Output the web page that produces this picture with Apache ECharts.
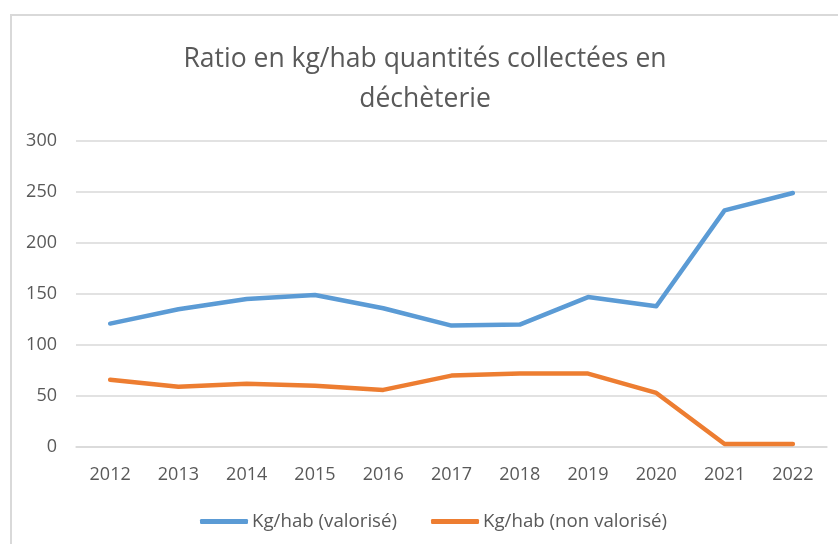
<!DOCTYPE html>
<html>
<head>
<meta charset="utf-8">
<script src="https://cdn.jsdelivr.net/npm/echarts@6/dist/echarts.min.js"></script>
<style>
html,body{margin:0;padding:0;background:#fff;}
#c{width:838px;height:544px;}
</style>
</head>
<body>
<div id="c"></div>
<script>
const years = ['2012','2013','2014','2015','2016','2017','2018','2019','2020','2021','2022'];
const valorise = [121, 135, 145, 149, 136, 119, 120, 147, 138, 232, 249];
const nonValorise = [66, 59, 62, 60, 56, 70, 72, 72, 53, 3, 3];
const seriesNames = ['Kg/hab (valorisé)', 'Kg/hab (non valorisé)'];
const titleText = 'Ratio en kg/hab quantités collectées en\ndéchèterie';

const FONT = '"Open Sans", sans-serif';
const GREY = '#595959';
const chart = echarts.init(document.getElementById('c'));
chart.setOption({
  backgroundColor: '#ffffff',
  animation: false,
  title: {
    text: titleText,
    left: 420,
    textAlign: 'center',
    top: 34,
    textStyle: {
      fontFamily: FONT,
      fontSize: 26.5,
      fontWeight: 'normal',
      color: GREY,
      lineHeight: 40
    }
  },
  graphic: [{
    type: 'rect',
    shape: { x: 11, y: 15, width: 900, height: 600 },
    style: { fill: 'none', stroke: '#d9d9d9', lineWidth: 2 },
    silent: true
  }],
  legend: {
    left: 195,
    top: 507,
    itemWidth: 48,
    itemHeight: 5,
    itemGap: 34,
    icon: 'roundRect',
    textStyle: { fontFamily: FONT, fontSize: 18.7, color: GREY, padding: [0, 0, 0, -1] },
    data: seriesNames
  },
  grid: { left: 76, right: 11, top: 141, bottom: 97, containLabel: false },
  xAxis: {
    type: 'category',
    data: years,
    boundaryGap: true,
    axisLine: { show: true, lineStyle: { color: '#d9d9d9', width: 1.5 } },
    axisTick: { show: false },
    axisLabel: { fontFamily: FONT, fontSize: 18, color: GREY, margin: 19 }
  },
  yAxis: {
    type: 'value',
    min: 0,
    max: 300,
    interval: 50,
    axisLine: { show: false },
    axisTick: { show: false },
    axisLabel: { fontFamily: FONT, fontSize: 18, color: GREY, margin: 19 },
    splitLine: { lineStyle: { color: '#d9d9d9', width: 1.5 } }
  },
  series: [
    {
      name: seriesNames[0],
      type: 'line',
      data: valorise,
      symbol: 'none',
      color: '#5b9bd5',
      lineStyle: { width: 4.5, color: '#5b9bd5', cap: 'round', join: 'round' }
    },
    {
      name: seriesNames[1],
      type: 'line',
      data: nonValorise,
      symbol: 'none',
      color: '#ed7d31',
      lineStyle: { width: 4.5, color: '#ed7d31', cap: 'round', join: 'round' }
    }
  ]
});
</script>
</body>
</html>
